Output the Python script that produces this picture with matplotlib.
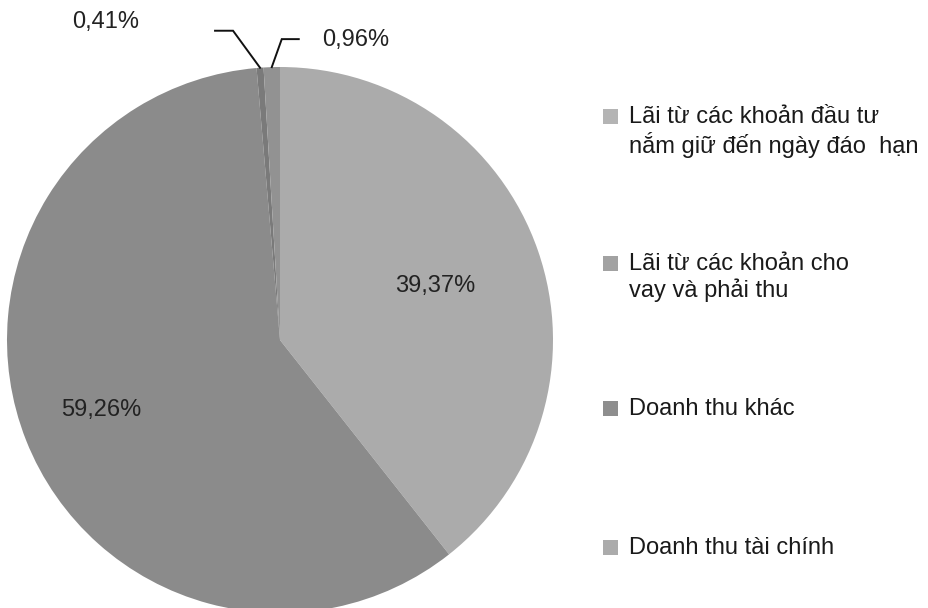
import numpy as np
import matplotlib
matplotlib.use('Agg')
import matplotlib.pyplot as plt
from matplotlib.patches import Rectangle

plt.rcParams['font.family'] = ['Liberation Sans', 'DejaVu Sans']

# du lieu doc tu hinh
values = [39.37, 59.26, 0.41, 0.96]
pct_labels = ['39,37%', '59,26%', '0,41%', '0,96%']
colors = ['#ababab', '#8b8b8b', '#7a7a7a', '#929292']
legend_labels = ['Lãi từ các khoản đầu tư\nnắm giữ đến ngày đáo  hạn',
                 'Lãi từ các khoản cho\nvay và phải thu',
                 'Doanh thu khác',
                 'Doanh thu tài chính']
legend_colors = ['#b4b4b4', '#a2a2a2', '#8e8e8e', '#ababab']

W, H = 929, 608
cx, cy, R = 280, 340, 273   # tam va ban kinh (pixel)
FS = 17

fig = plt.figure(figsize=(W / 100, H / 100), dpi=100)
ax = fig.add_axes([0, 0, 1, 1])

wedges, _ = ax.pie(values, colors=colors, startangle=90, counterclock=False,
                   radius=1, wedgeprops=dict(linewidth=0))
ax.set_aspect('auto')
ax.set_xlim(-cx / R, (W - cx) / R)
ax.set_ylim(-(H - cy) / R, cy / R)
ax.axis('off')

# nhan phan tram cua hai phan lon
ax.text(0.568, 0.198, pct_labels[0], fontsize=FS, ha='center', va='center', color='#222222')
ax.text(-0.656, -0.256, pct_labels[1], fontsize=FS, ha='center', va='center', color='#222222')

# nhan hai phan nho voi duong dan
def mid_point(w):
    a = np.deg2rad((w.theta1 + w.theta2) / 2)
    return np.cos(a), np.sin(a)

px = 1 / R
x1, y1 = mid_point(wedges[2])
ax.plot([x1, x1 - 27 * px, x1 - 45 * px], [y1, y1 + 37 * px, y1 + 37 * px],
        color='#111111', lw=1.4, solid_joinstyle='miter')
ax.text(-0.637, 1.165, pct_labels[2], fontsize=FS, ha='center', va='center', color='#222222')

x2, y2 = mid_point(wedges[3])
ax.plot([x2, x2 + 10 * px, x2 + 27 * px], [y2, y2 + 28 * px, y2 + 28 * px],
        color='#111111', lw=1.4, solid_joinstyle='miter')
ax.text(0.154, 1.099, pct_labels[3], fontsize=FS, ha='left', va='center', color='#222222')

# chu giai
leg_y = [118, 265, 410, 549]
for lab, col, y in zip(legend_labels, legend_colors, leg_y):
    fig.patches.append(Rectangle((603 / W, 1 - (y + 6) / H), 15 / W, 15 / H,
                                 transform=fig.transFigure, facecolor=col,
                                 edgecolor='none'))
    fig.text(629 / W, 1 - (y - 12) / H, lab, fontsize=FS, ha='left', va='top',
             linespacing=1.2, color='#1a1a1a')

fig.savefig('out.png', dpi=100, facecolor='white')
